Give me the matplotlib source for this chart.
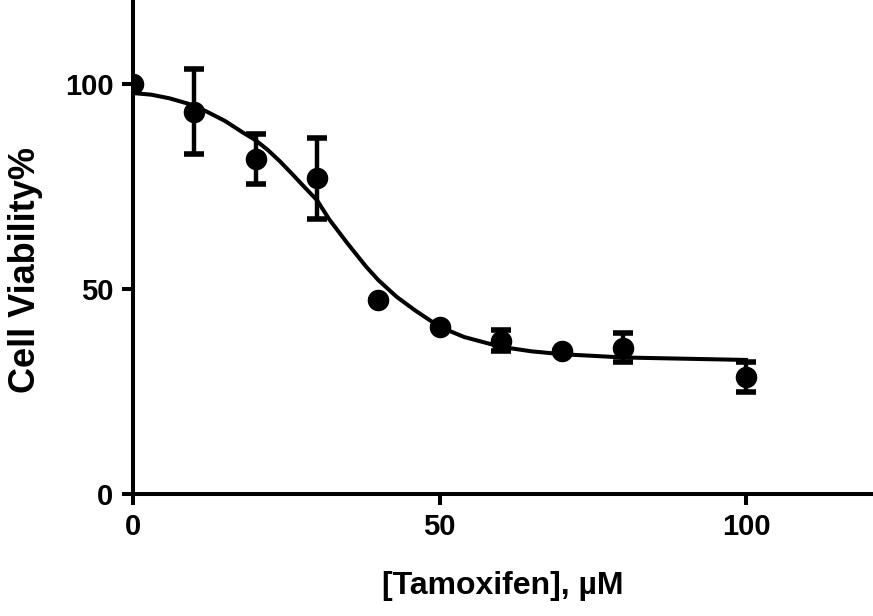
import matplotlib
matplotlib.use("Agg")
import matplotlib.pyplot as plt

# measured points (mean +/- SD)
conc = [0, 10, 20, 30, 40, 50, 60, 70, 80, 100]
viability = [100, 93.3, 81.7, 77.0, 47.3, 40.7, 37.4, 35.0, 35.7, 28.6]
err = [0, 10.3, 6.2, 9.8, 0, 0, 2.6, 0, 3.6, 3.6]

# fitted curve
curve_x = [0, 3, 6, 9, 12, 15, 18, 20, 22, 24, 26, 28, 30, 32, 35, 38, 40, 43, 46, 50,
           54, 57, 60, 65, 70, 80, 90, 100]
curve_y = [97.8, 97.4, 96.5, 95.2, 93.3, 91.0, 88.1, 86.3, 83.9, 81.1, 78.0, 74.8,
           71.7, 67.0, 61.1, 55.5, 52.2, 48.1, 44.8, 40.8, 38.3, 37.1, 35.9, 34.8,
           34.1, 33.3, 33.0, 32.7]

plt.rcParams['font.family'] = ['Liberation Sans', 'DejaVu Sans']
plt.rcParams['font.weight'] = 'bold'

fig = plt.figure(figsize=(8.73, 6.16), dpi=100)
ax = fig.add_axes([133 / 873, 122 / 616, 740 / 873, 494 / 616])

ax.plot(curve_x, curve_y, color='black', lw=2.9, zorder=2)
ax.errorbar(conc, viability, yerr=err, fmt='o', color='black', ms=14.5,
            elinewidth=3.2, capsize=7, capthick=4, zorder=3)

ax.set_xlim(0, 120.7)
ax.set_ylim(0, 120.5)
ax.set_xticks([0, 50, 100])
ax.set_yticks([0, 50, 100])

for s in ['top', 'right']:
    ax.spines[s].set_visible(False)
for s in ['left', 'bottom']:
    ax.spines[s].set_linewidth(2.9)
    ax.spines[s].set_clip_on(False)

ax.tick_params(axis='both', direction='out', length=8, width=2.9,
               labelsize=21, pad=6)
for lab in ax.get_xticklabels() + ax.get_yticklabels():
    lab.set_fontweight('bold')

ax.set_xlabel('[Tamoxifen], µM', fontsize=23, fontweight='bold', labelpad=21)
ax.set_ylabel('Cell Viability%', fontsize=26, fontweight='bold')
ax.yaxis.set_label_coords(-0.121, 0.453)

fig.savefig('out.png', dpi=100)
